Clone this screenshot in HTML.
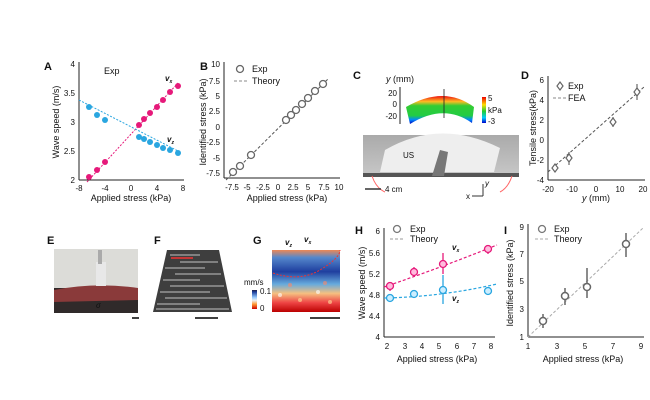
<!DOCTYPE html><html><head><style>body{margin:0;background:#fff}svg{display:block}text{font-family:"Liberation Sans",Arial,sans-serif;fill:#111}</style></head><body>
<svg width="650" height="400" viewBox="0 0 650 400" xmlns="http://www.w3.org/2000/svg">
<defs>
<linearGradient id="cb" x1="0" y1="0" x2="0" y2="1"><stop offset="0" stop-color="#e00"/><stop offset=".3" stop-color="#fd0"/><stop offset=".55" stop-color="#2c3"/><stop offset=".8" stop-color="#0cf"/><stop offset="1" stop-color="#00c"/></linearGradient>
<linearGradient id="band" x1="0" y1="0" x2="0" y2="1"><stop offset="0" stop-color="#e11"/><stop offset=".2" stop-color="#fb2"/><stop offset=".35" stop-color="#3c3"/><stop offset=".7" stop-color="#2c4"/><stop offset=".85" stop-color="#08f"/><stop offset="1" stop-color="#00b"/></linearGradient>
<linearGradient id="cb2" x1="0" y1="0" x2="0" y2="1"><stop offset="0" stop-color="#224"/><stop offset=".1" stop-color="#1a3c9a"/><stop offset=".4" stop-color="#9cf"/><stop offset=".55" stop-color="#eee"/><stop offset=".75" stop-color="#f93"/><stop offset="1" stop-color="#c00"/></linearGradient>
<linearGradient id="heat" x1="0" y1="0" x2="0" y2="1"><stop offset="0" stop-color="#e85"/><stop offset=".12" stop-color="#58c"/><stop offset=".35" stop-color="#1f3f9f"/><stop offset=".55" stop-color="#6aD"/><stop offset=".7" stop-color="#f5c080"/><stop offset=".85" stop-color="#e44"/><stop offset="1" stop-color="#b00"/></linearGradient>
<linearGradient id="photo" x1="0" y1="0" x2="0" y2="1"><stop offset="0" stop-color="#aaa"/><stop offset="1" stop-color="#c8c8c8"/></linearGradient>
</defs>
<g font-size="8">
<!-- A -->
<text x="44" y="70" font-size="11" font-weight="bold">A</text>
<line x1="79" y1="62" x2="79" y2="180" stroke="#222"/><line x1="79" y1="180" x2="184" y2="180" stroke="#222"/>
<g text-anchor="end"><text x="75" y="67">4</text><text x="75" y="96">3.5</text><text x="75" y="125">3</text><text x="75" y="154">2.5</text><text x="75" y="183">2</text></g>
<g text-anchor="middle"><text x="79" y="191">-8</text><text x="105" y="191">-4</text><text x="131" y="191">0</text><text x="157" y="191">4</text><text x="183" y="191">8</text>
<text x="131" y="201" font-size="9">Applied stress (kPa)</text>
<text transform="translate(59,122) rotate(-90)" font-size="9">Wave speed (m/s)</text></g>
<text x="104" y="74" font-size="9">Exp</text>
<line x1="87" y1="182" x2="178" y2="83" stroke="#e6197a" stroke-dasharray="2,1.5"/>
<line x1="79" y1="100" x2="178" y2="151" stroke="#2aa6e0" stroke-dasharray="2,1.5"/>
<g fill="#e6197a"><circle cx="89" cy="177" r="3"/><circle cx="97" cy="170" r="3"/><circle cx="105" cy="162" r="3"/><circle cx="139" cy="125" r="3"/><circle cx="144" cy="119" r="3"/><circle cx="150" cy="113" r="3"/><circle cx="157" cy="107" r="3"/><circle cx="163" cy="100" r="3"/><circle cx="170" cy="92" r="3"/><circle cx="178" cy="86" r="3"/></g>
<g fill="#2aa6e0"><circle cx="89" cy="107" r="3"/><circle cx="97" cy="115" r="3"/><circle cx="105" cy="120" r="3"/><circle cx="139" cy="137" r="3"/><circle cx="144" cy="139" r="3"/><circle cx="150" cy="142" r="3"/><circle cx="157" cy="145" r="3"/><circle cx="163" cy="148" r="3"/><circle cx="170" cy="150" r="3"/><circle cx="178" cy="153" r="3"/></g>
<text x="165" y="81" fill="#e6197a" font-style="italic" font-weight="bold">v<tspan font-size="5" dy="2">x</tspan></text>
<text x="167" y="142" fill="#2aa6e0" font-style="italic" font-weight="bold">v<tspan font-size="5" dy="2">z</tspan></text>
<!-- B -->
<text x="200" y="70" font-size="11" font-weight="bold">B</text>
<line x1="224" y1="62" x2="224" y2="178" stroke="#222"/><line x1="224" y1="178" x2="340" y2="178" stroke="#222"/>
<g text-anchor="end"><text x="220" y="67">10</text><text x="220" y="84">7.5</text><text x="220" y="99">5</text><text x="220" y="114">2.5</text><text x="220" y="130">0</text><text x="220" y="145">-2.5</text><text x="220" y="161">-5</text><text x="220" y="176">-7.5</text></g>
<g text-anchor="middle"><text x="232" y="190">-7.5</text><text x="247" y="190">-5</text><text x="263" y="190">-2.5</text><text x="278" y="190">0</text><text x="293" y="190">2.5</text><text x="308" y="190">5</text><text x="324" y="190">7.5</text><text x="339" y="190">10</text>
<text x="287" y="201" font-size="9">Applied stress (kPa)</text>
<text transform="translate(206,122) rotate(-90)" font-size="9">Identified stress (kPa)</text></g>
<line x1="226" y1="180" x2="329" y2="78" stroke="#555" stroke-dasharray="3,2"/>
<g fill="#fff" stroke="#666" stroke-width="1.3"><circle cx="233" cy="172" r="3.5"/><circle cx="240" cy="166" r="3.5"/><circle cx="251" cy="155" r="3.5"/><circle cx="286" cy="120" r="3.5"/><circle cx="291" cy="115" r="3.5"/><circle cx="296" cy="110" r="3.5"/><circle cx="302" cy="104" r="3.5"/><circle cx="308" cy="98" r="3.5"/><circle cx="315" cy="91" r="3.5"/><circle cx="323" cy="84" r="3.5"/>
<circle cx="240" cy="69" r="3.5"/></g>
<text x="252" y="72" font-size="9">Exp</text><line x1="234" y1="81" x2="247" y2="81" stroke="#888" stroke-dasharray="3,2"/><text x="252" y="84" font-size="9">Theory</text>
<!-- C -->
<text x="353" y="79" font-size="11" font-weight="bold">C</text>
<text x="386" y="82" font-size="9"><tspan font-style="italic">y</tspan> (mm)</text>
<line x1="400" y1="87" x2="400" y2="124" stroke="#222"/>
<g text-anchor="end"><text x="397" y="96">20</text><text x="397" y="107">0</text><text x="397" y="119">-20</text></g>
<path d="M406,107 Q444,85 474,107 L472,123 Q444,103 410,124 Z" fill="url(#band)"/>
<line x1="444" y1="89" x2="444" y2="118" stroke="#222" stroke-width=".8"/>
<rect x="482" y="97" width="4" height="26" fill="url(#cb)"/>
<text x="488" y="101">5</text><text x="488" y="113">kPa</text><text x="488" y="124">-3</text>
<rect x="363" y="135" width="156" height="42" fill="url(#photo)"/>
<path d="M380,172 L385,150 Q440,118 500,148 L494,172 Z" fill="#eee"/>
<rect x="363" y="173" width="156" height="4" fill="#555"/>
<path d="M432,176 L440,150 L448,152 L444,176Z" fill="#777"/>
<text x="403" y="158">US</text>
<path d="M372,176 Q376,188 385,192" fill="none" stroke="#f66"/><path d="M512,176 Q508,188 500,192" fill="none" stroke="#f66"/>
<line x1="365" y1="189" x2="381" y2="189" stroke="#333" stroke-width="1.5"/><text x="385" y="192">4 cm</text>
<text x="466" y="199">x</text><line x1="472" y1="196" x2="483" y2="196" stroke="#333"/><line x1="483" y1="196" x2="483" y2="184" stroke="#333"/><text x="485" y="186" font-style="italic">y</text>
<!-- D -->
<text x="521" y="79" font-size="11" font-weight="bold">D</text>
<line x1="548" y1="76" x2="548" y2="180" stroke="#222"/><line x1="548" y1="180" x2="645" y2="180" stroke="#222"/>
<g text-anchor="end"><text x="544" y="83">6</text><text x="544" y="103">4</text><text x="544" y="123">2</text><text x="544" y="143">0</text><text x="544" y="163">-2</text><text x="544" y="183">-4</text></g>
<g text-anchor="middle"><text x="548" y="192">-20</text><text x="572" y="192">-10</text><text x="596" y="192">0</text><text x="620" y="192">10</text><text x="643" y="192">20</text>
<text x="596" y="201" font-size="9"><tspan font-style="italic">y</tspan> (mm)</text>
<text transform="translate(536,128) rotate(-90)" font-size="9">Tensile stress(kPa)</text></g>
<line x1="548" y1="172" x2="644" y2="87" stroke="#555" stroke-dasharray="3,2"/>
<g stroke="#666" stroke-width="1.2" fill="#fff"><line x1="555" y1="164" x2="555" y2="172"/><line x1="569" y1="152" x2="569" y2="165"/><line x1="613" y1="117" x2="613" y2="127"/><line x1="637" y1="84" x2="637" y2="100"/>
<path d="M555,164 l3,4 l-3,4 l-3,-4z"/><path d="M569,154 l3,4 l-3,4 l-3,-4z"/><path d="M613,118 l3,4 l-3,4 l-3,-4z"/><path d="M637,88 l3,4 l-3,4 l-3,-4z"/><path d="M560,82 l3,4 l-3,4 l-3,-4z"/></g>
<text x="568" y="89" font-size="9">Exp</text><line x1="553" y1="98" x2="566" y2="98" stroke="#888" stroke-dasharray="3,2"/><text x="568" y="101" font-size="9">FEA</text>
<!-- E -->
<text x="47" y="244" font-size="11" font-weight="bold">E</text>
<rect x="54" y="249" width="84" height="64" fill="#dcdcd8"/>
<rect x="54" y="288" width="84" height="25" fill="#302a2a"/>
<path d="M54,290 Q96,282 138,288 L138,300 L54,302Z" fill="#8a3a3a"/>
<rect x="96" y="262" width="10" height="24" fill="#e8e8e8"/><rect x="98" y="250" width="4" height="14" fill="#aaa"/>
<text x="96" y="308" fill="#fff" font-style="italic">σ</text>
<line x1="132" y1="318" x2="139" y2="318" stroke="#000" stroke-width="1.5"/>
<!-- F -->
<text x="154" y="244" font-size="11" font-weight="bold">F</text>
<path d="M167,250 L219,250 L232,312 L153,312Z" fill="#3e3e3e"/>
<g stroke="#ccc" stroke-width="1.2" opacity=".75"><line x1="170" y1="255" x2="200" y2="255"/><line x1="180" y1="262" x2="218" y2="262"/><line x1="165" y1="268" x2="205" y2="268"/><line x1="175" y1="274" x2="221" y2="274"/><line x1="163" y1="280" x2="200" y2="280"/><line x1="170" y1="286" x2="224" y2="286"/><line x1="160" y1="292" x2="210" y2="292"/><line x1="165" y1="298" x2="227" y2="298"/><line x1="157" y1="304" x2="200" y2="304"/><line x1="156" y1="309" x2="229" y2="309"/></g>
<line x1="171" y1="258" x2="193" y2="258" stroke="#e33" stroke-width="1.5"/>
<line x1="195" y1="318" x2="218" y2="318" stroke="#000" stroke-width="1.5"/>
<!-- G -->
<text x="253" y="244" font-size="11" font-weight="bold">G</text>
<text x="285" y="245" font-style="italic" font-weight="bold">v<tspan font-size="5" dy="2">z</tspan></text><text x="304" y="242" font-style="italic" font-weight="bold">v<tspan font-size="5" dy="2">x</tspan></text>
<rect x="272" y="250" width="68" height="62" fill="url(#heat)"/>
<g opacity=".6"><circle cx="280" cy="295" r="2" fill="#fff"/><circle cx="300" cy="300" r="2" fill="#fd9"/><circle cx="318" cy="292" r="2" fill="#fff"/><circle cx="330" cy="302" r="2" fill="#fd9"/><circle cx="290" cy="285" r="2" fill="#f86"/><circle cx="325" cy="283" r="2" fill="#f86"/></g>
<path d="M273,273 Q300,282 320,270 T340,250" fill="none" stroke="#e33" stroke-dasharray="2,1.5"/>
<rect x="252" y="290" width="5" height="19" fill="url(#cb2)"/>
<text x="244" y="285">mm/s</text><text x="260" y="294">0.1</text><text x="260" y="311">0</text>
<line x1="310" y1="318" x2="340" y2="318" stroke="#000" stroke-width="1.5"/>
<!-- H -->
<text x="355" y="234" font-size="11" font-weight="bold">H</text>
<line x1="384" y1="228" x2="384" y2="337" stroke="#222"/><line x1="384" y1="337" x2="495" y2="337" stroke="#222"/>
<g text-anchor="end"><text x="380" y="234">6</text><text x="380" y="256">5.6</text><text x="380" y="277">5.2</text><text x="380" y="298">4.8</text><text x="380" y="319">4.4</text><text x="380" y="340">4</text></g>
<g text-anchor="middle"><text x="387" y="349">2</text><text x="405" y="349">3</text><text x="422" y="349">4</text><text x="439" y="349">5</text><text x="457" y="349">6</text><text x="474" y="349">7</text><text x="491" y="349">8</text>
<text x="437" y="362" font-size="9">Applied stress (kPa)</text>
<text transform="translate(365,283) rotate(-90)" font-size="9">Wave speed (m/s)</text></g>
<path d="M384,287 Q440,268 497,245" fill="none" stroke="#e6197a" stroke-width="1.2" stroke-dasharray="3,2"/>
<path d="M384,298 Q440,297 497,284" fill="none" stroke="#2aa6e0" stroke-width="1.2" stroke-dasharray="3,2"/>
<g stroke="#e6197a" stroke-width="1.3" fill="#fbd"><line x1="390" y1="282" x2="390" y2="291"/><line x1="414" y1="267" x2="414" y2="277"/><line x1="443" y1="253" x2="443" y2="274"/><line x1="488" y1="245" x2="488" y2="254"/>
<circle cx="390" cy="286" r="3.5"/><circle cx="414" cy="272" r="3.5"/><circle cx="443" cy="264" r="3.5"/><circle cx="488" cy="249" r="3.5"/></g>
<g stroke="#2aa6e0" stroke-width="1.3" fill="#cef"><line x1="390" y1="294" x2="390" y2="301"/><line x1="414" y1="290" x2="414" y2="298"/><line x1="443" y1="275" x2="443" y2="304"/><line x1="488" y1="288" x2="488" y2="295"/>
<circle cx="390" cy="298" r="3.5"/><circle cx="414" cy="294" r="3.5"/><circle cx="443" cy="290" r="3.5"/><circle cx="488" cy="291" r="3.5"/></g>
<circle cx="397" cy="229" r="3.5" fill="#fff" stroke="#777" stroke-width="1.3"/><text x="410" y="232" font-size="9">Exp</text>
<line x1="390" y1="239" x2="403" y2="239" stroke="#999" stroke-dasharray="3,2"/><text x="410" y="242" font-size="9">Theory</text>
<text x="452" y="250" fill="#e6197a" font-style="italic" font-weight="bold">v<tspan font-size="5" dy="2">x</tspan></text>
<text x="452" y="301" fill="#2aa6e0" font-style="italic" font-weight="bold">v<tspan font-size="5" dy="2">z</tspan></text>
<!-- I -->
<text x="504" y="234" font-size="11" font-weight="bold">I</text>
<line x1="528" y1="224" x2="528" y2="337" stroke="#222"/><line x1="528" y1="337" x2="644" y2="337" stroke="#222"/>
<g text-anchor="end"><text x="524" y="230">9</text><text x="524" y="257">7</text><text x="524" y="284">5</text><text x="524" y="312">3</text><text x="524" y="340">1</text></g>
<g text-anchor="middle"><text x="528" y="349">1</text><text x="557" y="349">3</text><text x="585" y="349">5</text><text x="613" y="349">7</text><text x="641" y="349">9</text>
<text x="583" y="362" font-size="9">Applied stress (kPa)</text>
<text transform="translate(513,283) rotate(-90)" font-size="9">Identified stress (kPa)</text></g>
<line x1="528" y1="337" x2="643" y2="228" stroke="#aaa" stroke-dasharray="3,2"/>
<g stroke="#666" stroke-width="1.5" fill="#fff"><line x1="543" y1="314" x2="543" y2="328"/><line x1="565" y1="288" x2="565" y2="305"/><line x1="587" y1="268" x2="587" y2="298"/><line x1="626" y1="233" x2="626" y2="257"/>
<circle cx="543" cy="321" r="3.5"/><circle cx="565" cy="296" r="3.5"/><circle cx="587" cy="287" r="3.5"/><circle cx="626" cy="244" r="3.5"/></g>
<circle cx="542" cy="229" r="3.5" fill="#fff" stroke="#777" stroke-width="1.3"/><text x="554" y="232" font-size="9">Exp</text>
<line x1="535" y1="239" x2="548" y2="239" stroke="#aaa" stroke-dasharray="3,2"/><text x="554" y="242" font-size="9">Theory</text>
</g>
</svg></body></html>
